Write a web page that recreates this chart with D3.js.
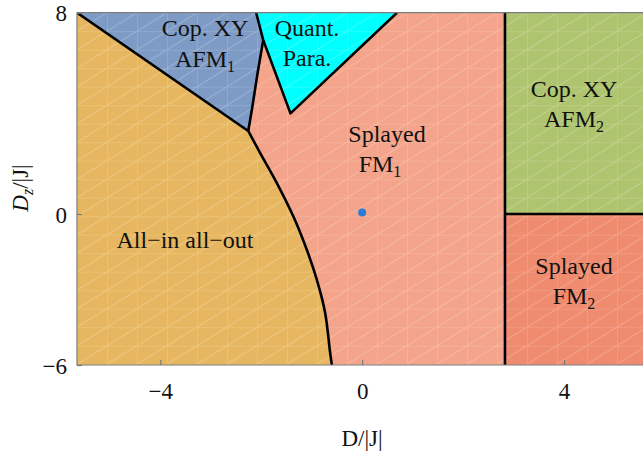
<!DOCTYPE html>
<html>
<head>
<meta charset="utf-8">
<script src="https://cdn.jsdelivr.net/npm/d3@7"></script>
<style>
  html, body { margin: 0; padding: 0; background: #fff; }
  svg { display: block; }
  text { font-family: "Liberation Serif", "DejaVu Serif", serif; fill: #111; }
</style>
</head>
<body>
<svg id="chart" width="643" height="452"></svg>
<script>
// Axis ranges and ticks
const xDomain = [-5.65, 5.65];
const yDomain = [-6, 8];
const xTicks = [-4, 0, 4];
const yTicks = [-6, 0, 8];

// Phase boundaries (D/|J|, Dz/|J|)
const aiaoBlueLine = [[-5.65, 8], [-2.257, 3.30]];
const aiaoSplayedCurve = [[-2.257, 3.30], [-2.02, 2.42], [-1.69, 1.23], [-1.36, -0.11],
  [-1.095, -1.43], [-0.897, -2.62], [-0.733, -3.93], [-0.634, -5.52], [-0.60, -6]];
const blueSplayedCurve = [[-2.257, 3.30], [-2.17, 4.33], [-2.08, 5.5], [-1.96, 6.91]];
const quantPara = [[-2.10, 8], [0.69, 8], [-1.42, 4.0], [-1.96, 6.91]];
const xyAfm2Edge = 2.83;
const fm2Top = 0;

// Region colours
const colors = {
  splayed1: "#f3a48a",
  aiao: "#e6b760",
  afm1: "#7e9bc6",
  quant: "#00ffff",
  afm2: "#afc46f",
  splayed2: "#ef8b6f"
};

// Marked point
const point = [0, 0.06];

const svg = d3.select("#chart");
const x = d3.scaleLinear().domain(xDomain).range([77, 647.3]);
const y = d3.scaleLinear().domain(yDomain).range([365, 12.7]);

const line = d3.line().x(d => x(d[0])).y(d => y(d[1]));
const smooth = d3.line().x(d => x(d[0])).y(d => y(d[1])).curve(d3.curveCatmullRom.alpha(0.5));

// Mesh pattern overlay
const defs = svg.append("defs");
const pat = defs.append("pattern")
  .attr("id", "mesh").attr("patternUnits", "userSpaceOnUse")
  .attr("x", 77).attr("y", 12.7).attr("width", 30).attr("height", 18.5);
pat.append("path").attr("d", "M0,0V18.5M0,0H30M0,18.5L30,0")
  .attr("stroke", "#fff").attr("stroke-width", 1).attr("fill", "none");
defs.append("clipPath").attr("id", "plotClip").append("rect")
  .attr("x", 77).attr("y", 12.7).attr("width", 643 - 77).attr("height", 365 - 12.7);

const g = svg.append("g").attr("clip-path", "url(#plotClip)");

// Regions
g.append("rect").attr("x", x(xDomain[0])).attr("y", y(yDomain[1]))
  .attr("width", x(xDomain[1]) - x(xDomain[0])).attr("height", y(yDomain[0]) - y(yDomain[1]))
  .attr("fill", colors.splayed1);

// Orange region: straight edge, then the curved edge down to the bottom
const aiaoPath = line([aiaoBlueLine[0]]) +
  smooth(aiaoSplayedCurve).replace(/^M/, "L") + "L" + x(xDomain[0]) + "," + y(yDomain[0]) + "Z";
g.append("path").attr("d", aiaoPath).attr("fill", colors.aiao);

const blueCurveRev = blueSplayedCurve.slice().reverse();
const afm1Path = line([[xDomain[0], 8], quantPara[0]]) +
  smooth(blueCurveRev).replace(/^M/, "L") + "Z";
g.append("path").attr("d", afm1Path).attr("fill", colors.afm1);

g.append("path").attr("d", line(quantPara) + "Z").attr("fill", colors.quant);

g.append("rect").attr("x", x(xyAfm2Edge)).attr("y", y(yDomain[1]))
  .attr("width", x(xDomain[1]) - x(xyAfm2Edge)).attr("height", y(fm2Top) - y(yDomain[1]))
  .attr("fill", colors.afm2);
g.append("rect").attr("x", x(xyAfm2Edge)).attr("y", y(fm2Top))
  .attr("width", x(xDomain[1]) - x(xyAfm2Edge)).attr("height", y(yDomain[0]) - y(fm2Top))
  .attr("fill", colors.splayed2);

// Mesh overlay
g.append("rect").attr("x", 77).attr("y", 12.7).attr("width", 643 - 77).attr("height", 365 - 12.7)
  .attr("fill", "url(#mesh)").attr("opacity", 0.26);

// Boundary lines
const stroke = sel => sel.attr("fill", "none").attr("stroke", "#000").attr("stroke-width", 2.6)
  .attr("stroke-linejoin", "round");
g.append("path").attr("d", line(aiaoBlueLine)).call(stroke);
g.append("path").attr("d", smooth(aiaoSplayedCurve)).call(stroke);
g.append("path").attr("d", smooth(blueSplayedCurve)).call(stroke);
g.append("path").attr("d", line([quantPara[0], quantPara[3], quantPara[2], quantPara[1]])).call(stroke);
g.append("path").attr("d", line([[xyAfm2Edge, yDomain[1]], [xyAfm2Edge, yDomain[0]]])).call(stroke);
g.append("path").attr("d", line([[xyAfm2Edge, fm2Top], [xDomain[1], fm2Top]])).call(stroke);

// Marked point
g.append("circle").attr("cx", x(point[0])).attr("cy", y(point[1])).attr("r", 4)
  .attr("fill", "#2b7bd6");

// Frame
const frame = svg.append("g").attr("stroke", "#7a7a7a").attr("stroke-width", 1.2).attr("fill", "none");
frame.append("path").attr("d", `M${x(xDomain[1])},${y(8)}H${x(xDomain[0])}V${y(-6)}H${x(xDomain[1])}`);

// Axes (ticks inward, labels outside)
const fmt = d => d < 0 ? "\u2212" + Math.abs(d) : d;
const xAxis = d3.axisBottom(x).tickValues(xTicks).tickSizeInner(-5).tickSizeOuter(0)
  .tickFormat(fmt).tickPadding(18);
const xa = svg.append("g").attr("transform", `translate(0,${y(-6)})`).call(xAxis);
xa.select(".domain").remove();
xa.selectAll(".tick line").attr("stroke", "#7a7a7a").attr("stroke-width", 1.2);
xa.selectAll(".tick text").attr("font-size", 23).attr("fill", "#111");

const yAxis = d3.axisLeft(y).tickValues(yTicks).tickSizeInner(-5).tickSizeOuter(0)
  .tickFormat(fmt).tickPadding(10);
const ya = svg.append("g").attr("transform", `translate(${x(xDomain[0])},0)`).call(yAxis);
ya.select(".domain").remove();
ya.selectAll(".tick line").attr("stroke", "#7a7a7a").attr("stroke-width", 1.2);
ya.selectAll(".tick text").attr("font-size", 23).attr("fill", "#111").attr("dy", "0.36em");

// Axis titles
svg.append("text").attr("x", 362).attr("y", 446).attr("text-anchor", "middle")
  .attr("font-size", 23).text("D/|J|");
const yt = svg.append("text").attr("transform", "translate(28,188) rotate(-90)")
  .attr("text-anchor", "middle").attr("font-size", 23);
yt.append("tspan").attr("font-style", "italic").text("D");
yt.append("tspan").attr("font-style", "italic").attr("font-size", 16).attr("dy", 5).text("z");
yt.append("tspan").attr("dy", -5).text("/|J|");

// Phase labels
const label = (cx, by, main, sub) => {
  const t = svg.append("text").attr("x", cx).attr("y", by).attr("text-anchor", "middle")
    .attr("font-size", 24);
  t.append("tspan").text(main);
  if (sub) t.append("tspan").attr("font-size", 16).attr("dy", 5).text(sub);
};
label(205, 36, "Cop. XY");
label(205, 67, "AFM", "1");
label(307, 36, "Quant.");
label(307, 66, "Para.");
label(387, 142, "Splayed");
label(380, 172, "FM", "1");
label(574, 97, "Cop. XY");
label(574, 127, "AFM", "2");
label(574, 274, "Splayed");
label(574, 304, "FM", "2");
label(185, 248, "All\u2212in all\u2212out");
</script>
</body>
</html>
